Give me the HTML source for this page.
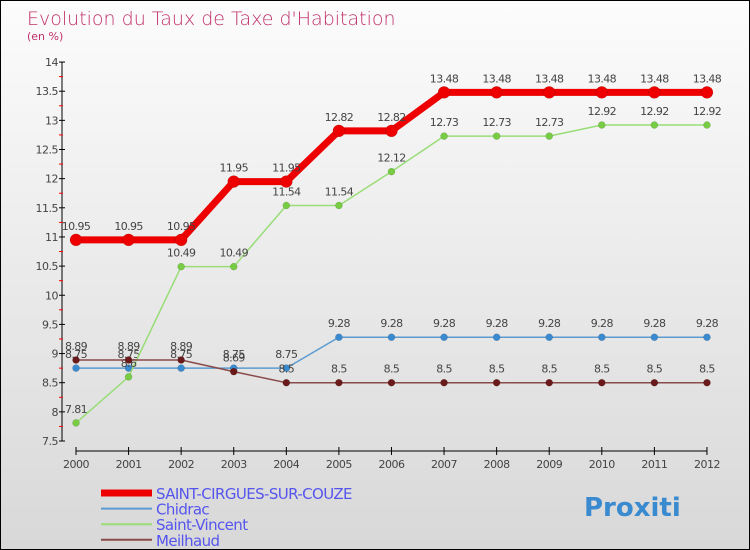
<!DOCTYPE html>
<html><head><meta charset="utf-8"><style>
body{margin:0}
#c{position:relative;width:750px;height:550px;box-sizing:border-box;border:1px solid #000;background:linear-gradient(#fcfcfc,#d8d8d8);overflow:hidden;font-family:"DejaVu Sans","Liberation Sans",sans-serif}
</style></head><body>
<div id="c">
<svg width="750" height="550" style="position:absolute;left:0;top:0">
<text x="26" y="24" font-size="19" fill="#c0306a" font-family="DejaVu Sans,sans-serif" font-weight="200">Evolution du Taux de Taxe d'Habitation</text>
<text x="26" y="39" font-size="11" fill="#c0306a">(en %)</text>
<g id="axes"></g><g id="series"></g><g id="legend"></g>
</svg>
</div>
<script>
const years=[2000,2001,2002,2003,2004,2005,2006,2007,2008,2009,2010,2011,2012];
const saint=[10.95,10.95,10.95,11.95,11.95,12.82,12.82,13.48,13.48,13.48,13.48,13.48,13.48];
const chidrac=[8.75,8.75,8.75,8.75,8.75,9.28,9.28,9.28,9.28,9.28,9.28,9.28,9.28];
const vincent=[7.81,8.6,10.49,10.49,11.54,11.54,12.12,12.73,12.73,12.73,12.92,12.92,12.92];
const meilhaud=[8.89,8.89,8.89,8.69,8.5,8.5,8.5,8.5,8.5,8.5,8.5,8.5,8.5];
const yTicks=[7.5,8,8.5,9,9.5,10,10.5,11,11.5,12,12.5,13,13.5,14];
const NS="http://www.w3.org/2000/svg";
const X=i=>75+i*52.58, Y=v=>440-(v-7.5)*58.3;
function mk(t,a,p){const e=document.createElementNS(NS,t);for(const k in a)e.setAttribute(k,a[k]);p.appendChild(e);return e;}
const ax=document.getElementById('axes');
const yl=mk('line',{x1:61,y1:Y(14),x2:61,y2:Y(7.5),stroke:'#000'},ax);


yTicks.forEach(v=>{
 mk('line',{x1:58,x2:64,y1:Y(v),y2:Y(v),stroke:'#000'},ax);
 mk('line',{x1:58,x2:62,y1:Y(v+0.25),y2:Y(v+0.25),stroke:'#f00'},ax).style.display=v<14?'':'none';
 const t=mk('text',{x:57,y:Y(v)+4,'text-anchor':'end','font-size':11,fill:'#444','letter-spacing':'-0.5'},ax);t.textContent=v;
 
 
});
const xl=mk('line',{x1:X(0),x2:X(12),y1:450,y2:450,stroke:'#000'},ax);


years.forEach((y,i)=>{
 mk('line',{x1:X(i),x2:X(i),y1:446,y2:454,stroke:'#000'},ax);
 const t=mk('text',{x:X(i),y:467,'text-anchor':'middle','font-size':11,fill:'#444','letter-spacing':'-0.5'},ax);t.textContent=y;
 
 
});
const sg=document.getElementById('series');
function series(vals,color,w,r,dot,name){
 const g=mk('g',{},sg);
 
 
 mk('polyline',{points:vals.map((v,i)=>X(i)+','+Y(v)).join(' '),fill:'none',stroke:color,'stroke-width':w,'stroke-linejoin':'round'},g);
 vals.forEach((v,i)=>{
  const c=mk('circle',{cx:X(i),cy:Y(v),r:r,fill:dot,stroke:'#0003','stroke-width':0.5},g);
  
  
  const t=mk('text',{x:X(i),y:Y(v)-10,'text-anchor':'middle','font-size':11,fill:'#444','letter-spacing':'-0.6'},g);t.textContent=v;
 });
}
series(chidrac,'#5b9bd0',1.5,3.5,'#3a8ad0','chidrac-series');
series(vincent,'#99dd77',1.5,3.5,'#77cc44','saint-vincent-series');
series(meilhaud,'#8b4a4a',1.5,3.5,'#6a1a1a','meilhaud-series');
series(saint,'#ee0000',7,6,'#ee0000','saint-cirgues-series');
const lg=document.getElementById('legend');
[['SAINT-CIRGUES-SUR-COUZE','#ee0000',7],['Chidrac','#5b9bd0',2],['Saint-Vincent','#99dd77',2],['Meilhaud','#8b4a4a',2]].forEach((d,i)=>{
 const y=492+i*15.6;
 const g=mk('g',{},lg);
 
 
 mk('line',{x1:100,x2:151,y1:y,y2:y,stroke:d[1],'stroke-width':d[2]},g);
 const t=mk('text',{x:155,y:y+6,'font-size':15,fill:'#5555ee','letter-spacing':'-0.6'},g);t.textContent=d[0];
});
const b=mk('text',{x:583,y:515,'font-size':26,'font-weight':'bold',fill:'#3a8ad0'},lg);b.textContent='Proxiti';


</script>
</body></html>
